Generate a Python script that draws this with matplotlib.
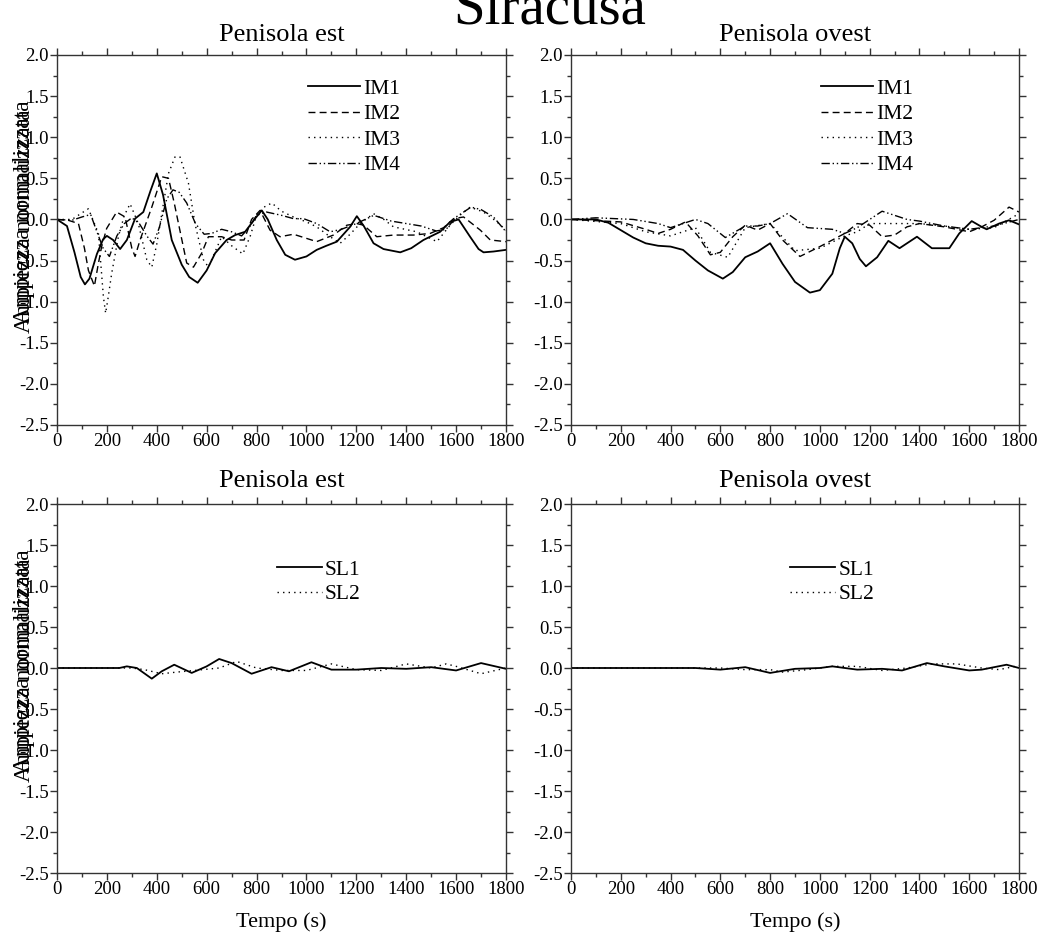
import numpy as np
import matplotlib
matplotlib.use("Agg")
import matplotlib.pyplot as plt
from matplotlib.ticker import MultipleLocator

# ---- data (time in s, normalised amplitude) ----
# top left: Penisola est, IM series
t_e_im1 = [0, 40, 70, 95, 112, 130, 160, 185, 200, 225, 253, 280, 313, 346, 375, 400, 425, 460, 500, 530, 564,
           600, 634, 680, 714, 754, 794, 821, 845, 881, 915, 954, 1000, 1041, 1080, 1122, 1175, 1202, 1230, 1269,
           1309, 1376, 1420, 1469, 1536, 1576, 1610, 1656, 1690, 1710, 1750, 1800]
v_e_im1 = [0, -0.08, -0.4, -0.7, -0.79, -0.72, -0.42, -0.24, -0.2, -0.25, -0.36, -0.25, 0.01, 0.09, 0.35, 0.56,
           0.3, -0.25, -0.55, -0.7, -0.77, -0.62, -0.41, -0.25, -0.19, -0.15, 0.01, 0.11, 0.0, -0.25, -0.43, -0.49,
           -0.45, -0.37, -0.32, -0.27, -0.09, 0.04, -0.08, -0.29, -0.36, -0.4, -0.35, -0.25, -0.15, -0.03, 0.0,
           -0.21, -0.36, -0.4, -0.39, -0.37]
t_e_im2 = [0, 45, 86, 110, 126, 150, 165, 179, 199, 239, 273, 300, 313, 333, 380, 420, 447, 470, 487, 520, 547,
           580, 607, 660, 700, 750, 780, 814, 854, 894, 948, 1000, 1041, 1108, 1162, 1202, 1229, 1282, 1349, 1429,
           1496, 1550, 1590, 1630, 1697, 1737, 1800]
v_e_im2 = [0, -0.01, -0.05, -0.35, -0.62, -0.81, -0.55, -0.33, -0.11, 0.09, 0.03, -0.35, -0.45, -0.25, 0.15,
           0.52, 0.5, 0.2, -0.05, -0.53, -0.58, -0.41, -0.21, -0.21, -0.25, -0.25, 0.0, 0.11, -0.13, -0.21, -0.18,
           -0.23, -0.27, -0.19, -0.07, -0.05, -0.07, -0.21, -0.19, -0.19, -0.17, -0.1, 0.01, 0.03, -0.13, -0.25,
           -0.27]
t_e_im3 = [0, 60, 100, 126, 150, 166, 186, 195, 205, 219, 246, 270, 293, 326, 360, 380, 400, 420, 447, 473, 493,
           527, 553, 587, 607, 640, 660, 700, 745, 775, 800, 830, 861, 900, 948, 1000, 1041, 1090, 1135, 1175, 1215,
           1269, 1310, 1349, 1442, 1523, 1576, 1615, 1656, 1710, 1760, 1800]
v_e_im3 = [0, 0.0, 0.08, 0.13, -0.05, -0.17, -0.94, -1.14, -0.95, -0.66, -0.21, 0.05, 0.19, -0.05, -0.49, -0.58,
           -0.3, 0.07, 0.56, 0.76, 0.76, 0.44, -0.05, -0.49, -0.58, -0.35, -0.21, -0.32, -0.42, -0.2, 0.05, 0.15,
           0.2, 0.1, 0.03, -0.03, -0.09, -0.2, -0.29, -0.18, -0.05, 0.07, 0.0, -0.09, -0.15, -0.27, -0.07, 0.05,
           0.15, 0.09, -0.02, -0.13]
t_e_im4 = [0, 60, 100, 135, 160, 185, 210, 240, 270, 300, 330, 360, 385, 410, 440, 465, 490, 520, 555, 590, 620,
           660, 700, 740, 770, 800, 840, 900, 948, 988, 1041, 1095, 1140, 1200, 1270, 1340, 1400, 1460, 1520, 1560,
           1600, 1660, 1700, 1750, 1800]
v_e_im4 = [0, -0.01, 0.03, 0.06, -0.15, -0.35, -0.45, -0.2, -0.05, 0.02, -0.05, -0.2, -0.3, -0.1, 0.25, 0.36,
           0.33, 0.2, -0.05, -0.18, -0.17, -0.12, -0.15, -0.2, -0.1, 0.05, 0.09, 0.05, 0.01, 0.01, -0.05, -0.15,
           -0.12, -0.05, 0.05, -0.02, -0.05, -0.08, -0.14, -0.12, 0.03, 0.15, 0.12, 0.03, -0.15]

# top right: Penisola ovest, IM series
t_o_im1 = [0, 100, 150, 200, 250, 300, 350, 400, 450, 500, 550, 610, 650, 700, 750, 800, 850, 900, 960, 1000,
           1050, 1080, 1100, 1130, 1160, 1185, 1230, 1275, 1320, 1390, 1450, 1520, 1560, 1610, 1650, 1670, 1720,
           1760, 1800]
v_o_im1 = [0, 0.0, -0.04, -0.13, -0.22, -0.29, -0.32, -0.33, -0.37, -0.5, -0.62, -0.72, -0.64, -0.46, -0.39,
           -0.29, -0.54, -0.76, -0.89, -0.86, -0.66, -0.35, -0.21, -0.29, -0.48, -0.57, -0.46, -0.26, -0.35, -0.21,
           -0.35, -0.35, -0.17, -0.02, -0.09, -0.12, -0.05, -0.01, -0.06]
t_o_im2 = [0, 200, 300, 350, 400, 460, 510, 560, 600, 650, 700, 750, 800, 850, 920, 1000, 1050, 1100, 1150, 1200,
           1250, 1300, 1350, 1400, 1500, 1600, 1650, 1700, 1760, 1800]
v_o_im2 = [0, -0.03, -0.12, -0.17, -0.12, -0.03, -0.2, -0.43, -0.4, -0.21, -0.07, -0.13, -0.05, -0.25, -0.45,
           -0.33, -0.25, -0.17, -0.05, -0.07, -0.21, -0.19, -0.09, -0.05, -0.09, -0.15, -0.09, -0.01, 0.15, 0.09]
t_o_im3 = [0, 200, 300, 400, 500, 560, 630, 700, 800, 900, 1000, 1100, 1150, 1200, 1300, 1400, 1500, 1600, 1700,
           1800]
v_o_im3 = [0, -0.05, -0.15, -0.2, -0.1, -0.4, -0.46, -0.1, -0.05, -0.38, -0.35, -0.2, -0.15, -0.05, -0.05, -0.05,
           -0.08, -0.12, -0.1, 0.07]
t_o_im4 = [0, 100, 250, 350, 400, 450, 500, 550, 620, 700, 750, 800, 870, 950, 1050, 1100, 1150, 1250, 1350, 1400,
           1500, 1600, 1700, 1800]
v_o_im4 = [0, 0.02, 0.0, -0.05, -0.1, -0.05, 0.0, -0.05, -0.22, -0.08, -0.08, -0.05, 0.07, -0.1, -0.12, -0.17,
           -0.1, 0.1, 0.0, -0.02, -0.08, -0.12, -0.08, 0.0]

# bottom left: Penisola est, SL series
t_e_sl1 = [0, 200, 250, 280, 320, 380, 420, 470, 540, 600, 650, 700, 780, 860, 930, 1020, 1100, 1200, 1300, 1400,
           1500, 1600, 1700, 1800]
v_e_sl1 = [0, 0, 0.0, 0.02, 0.0, -0.13, -0.04, 0.04, -0.06, 0.02, 0.11, 0.06, -0.07, 0.01, -0.04, 0.07, -0.02,
           -0.02, 0.0, -0.01, 0.01, -0.03, 0.06, -0.01]
t_e_sl2 = [0, 300, 350, 420, 480, 550, 650, 720, 800, 900, 1000, 1100, 1200, 1300, 1400, 1500, 1560, 1600, 1700,
           1800]
v_e_sl2 = [0, 0, -0.02, -0.07, -0.05, -0.03, 0.0, 0.08, 0.0, -0.03, -0.03, 0.05, -0.02, -0.03, 0.05, 0.0, 0.05,
           0.02, -0.07, 0.0]

# bottom right: Penisola ovest, SL series
t_o_sl1 = [0, 500, 600, 700, 800, 900, 1000, 1050, 1150, 1250, 1330, 1430, 1500, 1600, 1650, 1750, 1800]
v_o_sl1 = [0, 0, -0.02, 0.01, -0.06, -0.01, 0.0, 0.02, -0.02, -0.01, -0.03, 0.06, 0.02, -0.03, -0.02, 0.04, 0.0]
t_o_sl2 = [0, 600, 700, 800, 850, 950, 1050, 1150, 1250, 1350, 1450, 1550, 1650, 1720, 1800]
v_o_sl2 = [0, 0, -0.02, -0.02, -0.05, -0.02, 0.02, 0.02, -0.03, 0.0, 0.05, 0.05, 0.0, -0.02, 0.03]

plt.rcParams['font.family'] = ['Liberation Serif', 'DejaVu Serif']

W, H = 1043, 938
fig = plt.figure(figsize=(W / 100, H / 100), dpi=100)

# axes boxes in pixels: left, top, right, bottom
boxes = [(57, 55, 506, 425), (571, 55, 1019, 425),
         (57, 504, 506, 873), (571, 504, 1019, 873)]

im_styles = ['-', (0, (5, 3)), (0, (1, 3)), (0, (6, 2, 1, 2, 1, 2))]
sl_styles = ['-', (0, (1, 3))]

panels = [
    ("Penisola est", [(t_e_im1, v_e_im1), (t_e_im2, v_e_im2), (t_e_im3, v_e_im3), (t_e_im4, v_e_im4)],
     ['IM1', 'IM2', 'IM3', 'IM4'], im_styles),
    ("Penisola ovest", [(t_o_im1, v_o_im1), (t_o_im2, v_o_im2), (t_o_im3, v_o_im3), (t_o_im4, v_o_im4)],
     ['IM1', 'IM2', 'IM3', 'IM4'], im_styles),
    ("Penisola est", [(t_e_sl1, v_e_sl1), (t_e_sl2, v_e_sl2)], ['SL1', 'SL2'], sl_styles),
    ("Penisola ovest", [(t_o_sl1, v_o_sl1), (t_o_sl2, v_o_sl2)], ['SL1', 'SL2'], sl_styles),
]

for i, (box, (title, series, labels, styles)) in enumerate(zip(boxes, panels)):
    l, t, r, b = box
    ax = fig.add_axes([l / W, 1 - b / H, (r - l) / W, (b - t) / H])
    for (tt, vv), lab, ls in zip(series, labels, styles):
        lw = 1.3 if ls == '-' else 1.0
        ax.plot(tt, vv, color='black', linestyle=ls, linewidth=lw, label=lab)
    ax.set_xlim(0, 1800)
    ax.set_ylim(-2.5, 2.0)
    ax.xaxis.set_major_locator(MultipleLocator(200))
    ax.xaxis.set_minor_locator(MultipleLocator(100))
    ax.yaxis.set_major_locator(MultipleLocator(0.5))
    ax.yaxis.set_minor_locator(MultipleLocator(0.25))
    ax.yaxis.set_major_formatter(matplotlib.ticker.FormatStrFormatter('%.1f'))
    ax.tick_params(which='both', direction='out', top=True, right=True, color='#333333',
                   labelsize=13.5, pad=1)
    ax.tick_params(which='major', length=5, width=1)
    ax.tick_params(which='minor', length=3, width=1)
    for sp in ax.spines.values():
        sp.set_color('#333333')
        sp.set_linewidth(1.0)
    ax.set_title(title, fontsize=19, pad=10 if i < 2 else 12)

    if len(labels) == 4:
        ax.legend(loc='upper left', bbox_to_anchor=(0.535, 0.965), frameon=False, fontsize=15.5,
                  handlelength=2.4, handletextpad=0.15, labelspacing=0.25, borderpad=0)
    else:
        ax.legend(loc='upper left', bbox_to_anchor=(0.465, 0.878), frameon=False, fontsize=15.5,
                  handlelength=2.1, handletextpad=0.15, labelspacing=0.2, borderpad=0)

    if i % 2 == 0:
        # two overlapping axis labels, as in the original
        ax.text(-0.075, 0.575, "Ampiezza normalizzata", transform=ax.transAxes, rotation=90,
                ha='center', va='center', fontsize=17)
        ax.text(-0.072, 0.55, "Ampiezza normalizzata", transform=ax.transAxes, rotation=90,
                ha='center', va='center', fontsize=17)
    if i >= 2:
        ax.set_xlabel("Tempo (s)", fontsize=16, labelpad=10)

fig.text(550 / W, 1 - 24 / H, "Siracusa", ha='center', va='baseline', fontsize=41)

fig.savefig("out.png", dpi=100)
